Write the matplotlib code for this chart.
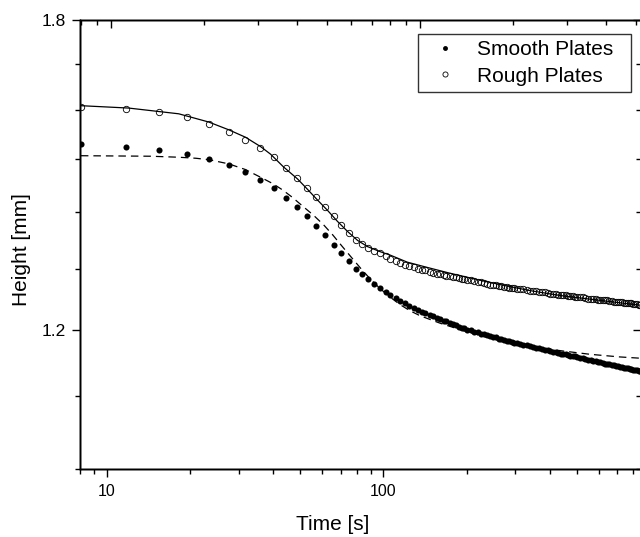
import matplotlib
matplotlib.use('Agg')
import matplotlib.pyplot as plt
from matplotlib.ticker import NullFormatter

plt.rcParams['font.family'] = ['Liberation Sans', 'DejaVu Sans']

# measured points (shared time base for both plate types)
time_s = [8.1, 11.7, 15.5, 19.5, 23.5, 27.6, 31.7, 35.9, 40.1, 44.4, 48.7, 53.0, 57.3, 61.7,
          66.1, 70.5, 74.9, 79.3, 83.8, 88.3, 92.8, 97.3, 102, 106, 111, 115, 120, 124,
          129, 133, 138, 142, 147, 151, 156, 160, 165, 169, 174, 178, 183, 187, 192, 196, 201,
          207, 213, 219, 225, 231, 237, 243, 249, 255, 261, 267, 273, 279, 285, 291, 297, 303,
          312, 321, 330, 339, 348, 357, 366, 375, 384, 393, 402, 411, 420, 429, 438, 447,
          456, 465, 474, 483, 492, 501,
          513, 525, 537, 549, 561, 573, 585, 597, 609, 621, 633, 645, 657, 669, 681, 693,
          705, 717, 729, 741, 753, 765, 777, 789, 801, 813, 825, 837, 849]

smooth_h = [1.530, 1.524, 1.518, 1.510, 1.500, 1.489, 1.475, 1.460, 1.444, 1.426, 1.409, 1.392,
            1.375, 1.358, 1.341, 1.326, 1.313, 1.300, 1.291, 1.282, 1.274, 1.267, 1.261, 1.256,
            1.251, 1.246, 1.242, 1.238,
            1.235, 1.232, 1.228, 1.226, 1.223, 1.221, 1.218, 1.217, 1.214, 1.213, 1.210, 1.209,
            1.207, 1.205, 1.203, 1.202, 1.200,
            1.199, 1.197, 1.196, 1.194, 1.193, 1.191, 1.190, 1.189, 1.188, 1.186, 1.185, 1.184,
            1.183, 1.182, 1.181, 1.180, 1.180,
            1.178, 1.177, 1.176, 1.174, 1.173, 1.172, 1.171, 1.170, 1.169, 1.168, 1.167, 1.166,
            1.165, 1.164, 1.163, 1.162, 1.162, 1.161, 1.160, 1.159, 1.159, 1.158,
            1.157, 1.156, 1.155, 1.154, 1.153, 1.152, 1.152, 1.151, 1.150, 1.149, 1.148, 1.148,
            1.147, 1.146, 1.146, 1.145, 1.144, 1.143, 1.143, 1.142, 1.141, 1.141, 1.140, 1.140,
            1.139, 1.138, 1.138, 1.137, 1.137]

rough_h = [1.607, 1.603, 1.596, 1.586, 1.571, 1.555, 1.538, 1.522, 1.504, 1.483, 1.464, 1.445,
           1.427, 1.410, 1.392, 1.376, 1.362, 1.350, 1.343, 1.336, 1.331, 1.326, 1.321, 1.317,
           1.313, 1.310, 1.306, 1.304,
           1.302, 1.300, 1.298, 1.297, 1.295, 1.293, 1.291, 1.290, 1.289, 1.288, 1.287, 1.286,
           1.285, 1.284, 1.283, 1.282, 1.281,
           1.280, 1.279, 1.278, 1.277, 1.276, 1.274, 1.273, 1.272, 1.272, 1.271, 1.270, 1.269,
           1.269, 1.268, 1.267, 1.267, 1.266,
           1.265, 1.265, 1.264, 1.263, 1.262, 1.262, 1.261, 1.260, 1.260, 1.259, 1.258, 1.258,
           1.257, 1.256, 1.256, 1.255, 1.255, 1.254, 1.254, 1.254, 1.253, 1.253,
           1.252, 1.252, 1.251, 1.250, 1.250, 1.249, 1.249, 1.248, 1.248, 1.247, 1.247, 1.247,
           1.246, 1.246, 1.245, 1.245, 1.244, 1.244, 1.244, 1.243, 1.243, 1.242, 1.242, 1.242,
           1.241, 1.241, 1.241, 1.240, 1.240]

# fitted curves
fit_smooth_t = [8.06, 14.4, 18.2, 21.0, 23.5, 27.6, 31.7, 36.0, 39.8, 43.2, 46.9, 51.0, 55.9,
                60.7, 65.5, 70.5, 76.7, 82.6, 89.8, 97.5, 106, 115, 125, 136, 161, 190, 224,
                280, 348, 447, 559, 717, 854]
fit_smooth_h = [1.507, 1.506, 1.504, 1.502, 1.499, 1.491, 1.480, 1.465, 1.453, 1.441, 1.427,
                1.411, 1.394, 1.377, 1.359, 1.340, 1.319, 1.301, 1.282, 1.266, 1.252, 1.240,
                1.230, 1.222, 1.210, 1.200, 1.191, 1.180, 1.173, 1.167, 1.162, 1.158, 1.156]

fit_rough_t = [8.06, 12.0, 18.2, 23.35, 27.6, 31.7, 36.0, 39.1, 43.55, 48.9, 53.2, 57.8, 62.8,
               68.2, 74.1, 80.6, 87.6, 97.5, 106, 122, 144, 174.5, 211, 264.5, 339.5, 435.5,
               607, 854]
fit_rough_h = [1.609, 1.604, 1.592, 1.575, 1.559, 1.544, 1.525, 1.510, 1.485, 1.462, 1.442,
               1.422, 1.403, 1.383, 1.365, 1.349, 1.338, 1.329, 1.323, 1.311, 1.302, 1.292,
               1.283, 1.273, 1.263, 1.255, 1.247, 1.239]

y_major = [1.2, 1.8]
y_minor = [1.0, 1.1, 1.3, 1.4, 1.5, 1.6, 1.7]
x_major = [10, 100]
x_minor = [8, 9, 20, 30, 40, 50, 60, 70, 80, 90, 200, 300, 400, 500, 600, 700, 800]

fig = plt.figure(figsize=(6.4, 5.37), dpi=100)
ax = fig.add_axes([80 / 640, 68 / 537, 561 / 640, 449 / 537])

ax.plot(time_s, smooth_h, 'o', color='black', ms=4.4, mew=0, label='Smooth Plates  ')
ax.plot(time_s, rough_h, 'o', mfc='none', mec='black', ms=4.6, mew=0.6, label='Rough Plates  ')
ax.plot(fit_smooth_t, fit_smooth_h, color='black', lw=0.9, dashes=(6, 4))
ax.plot(fit_rough_t, fit_rough_h, color='black', lw=0.9)

ax.set_xscale('log')
ax.set_yscale('log')
ax.set_xlim(8.056, 854)
ax.set_ylim(1.0, 1.8)

# top axis ticks (inward, own log range)
axt = ax.twiny()
axt.set_xscale('log')
axt.set_xlim(7.937, 519)
axt.set_xticks(x_major)
axt.set_xticks([8, 9, 20, 30, 40, 50, 60, 70, 80, 90, 200, 300, 400, 500], minor=True)
axt.tick_params(axis='x', which='both', direction='in', top=True, bottom=False,
                labeltop=False, labelbottom=False, width=1)
axt.tick_params(axis='x', which='major', length=6)
axt.tick_params(axis='x', which='minor', length=3.5)

# right axis ticks (inward)
axr = ax.twinx()
axr.set_yscale('log')
axr.set_ylim(1.0, 1.8)
axr.set_yticks(y_major)
axr.set_yticks(y_minor, minor=True)
axr.tick_params(axis='y', which='both', direction='in', right=True, left=False,
                labelright=False, labelleft=False, width=1)
axr.tick_params(axis='y', which='major', length=6)
axr.tick_params(axis='y', which='minor', length=3.5)
for a in (axt, axr):
    for s in a.spines.values():
        s.set_linewidth(1.0)

ax.set_xticks(x_major, ['10', '100'])
ax.set_xticks(x_minor, minor=True)
ax.set_yticks(y_major, ['1.2', '1.8'])
ax.set_yticks(y_minor, minor=True)
ax.xaxis.set_minor_formatter(NullFormatter())
ax.yaxis.set_minor_formatter(NullFormatter())
ax.tick_params(axis='both', which='both', direction='out', width=1)
ax.tick_params(axis='both', which='major', length=6)
ax.tick_params(axis='both', which='minor', length=3.5)
ax.tick_params(axis='x', which='both', top=False, pad=5, labelsize=11.5)
ax.tick_params(axis='y', which='both', right=False, pad=4, labelsize=12.5)
for s in ax.spines.values():
    s.set_linewidth(1.0)

leg = ax.legend(loc='upper right', bbox_to_anchor=(631 / 640, 1 - 34 / 537),
                bbox_transform=fig.transFigure, borderaxespad=0, fontsize=15,
                frameon=True, fancybox=False, edgecolor='black', borderpad=0.31,
                labelspacing=0.34, handlelength=1.97, handletextpad=0.55, markerscale=0.8)
leg.get_frame().set_linewidth(1.0)
leg.set_zorder(10)

fig.text(333 / 640, 1 - 524 / 537, 'Time [s]', ha='center', va='center', fontsize=15)
fig.text(22 / 640, 1 - 250 / 537, 'Height [mm]', ha='center', va='center',
         rotation=90, fontsize=15)

fig.savefig('out.png', dpi=100)
